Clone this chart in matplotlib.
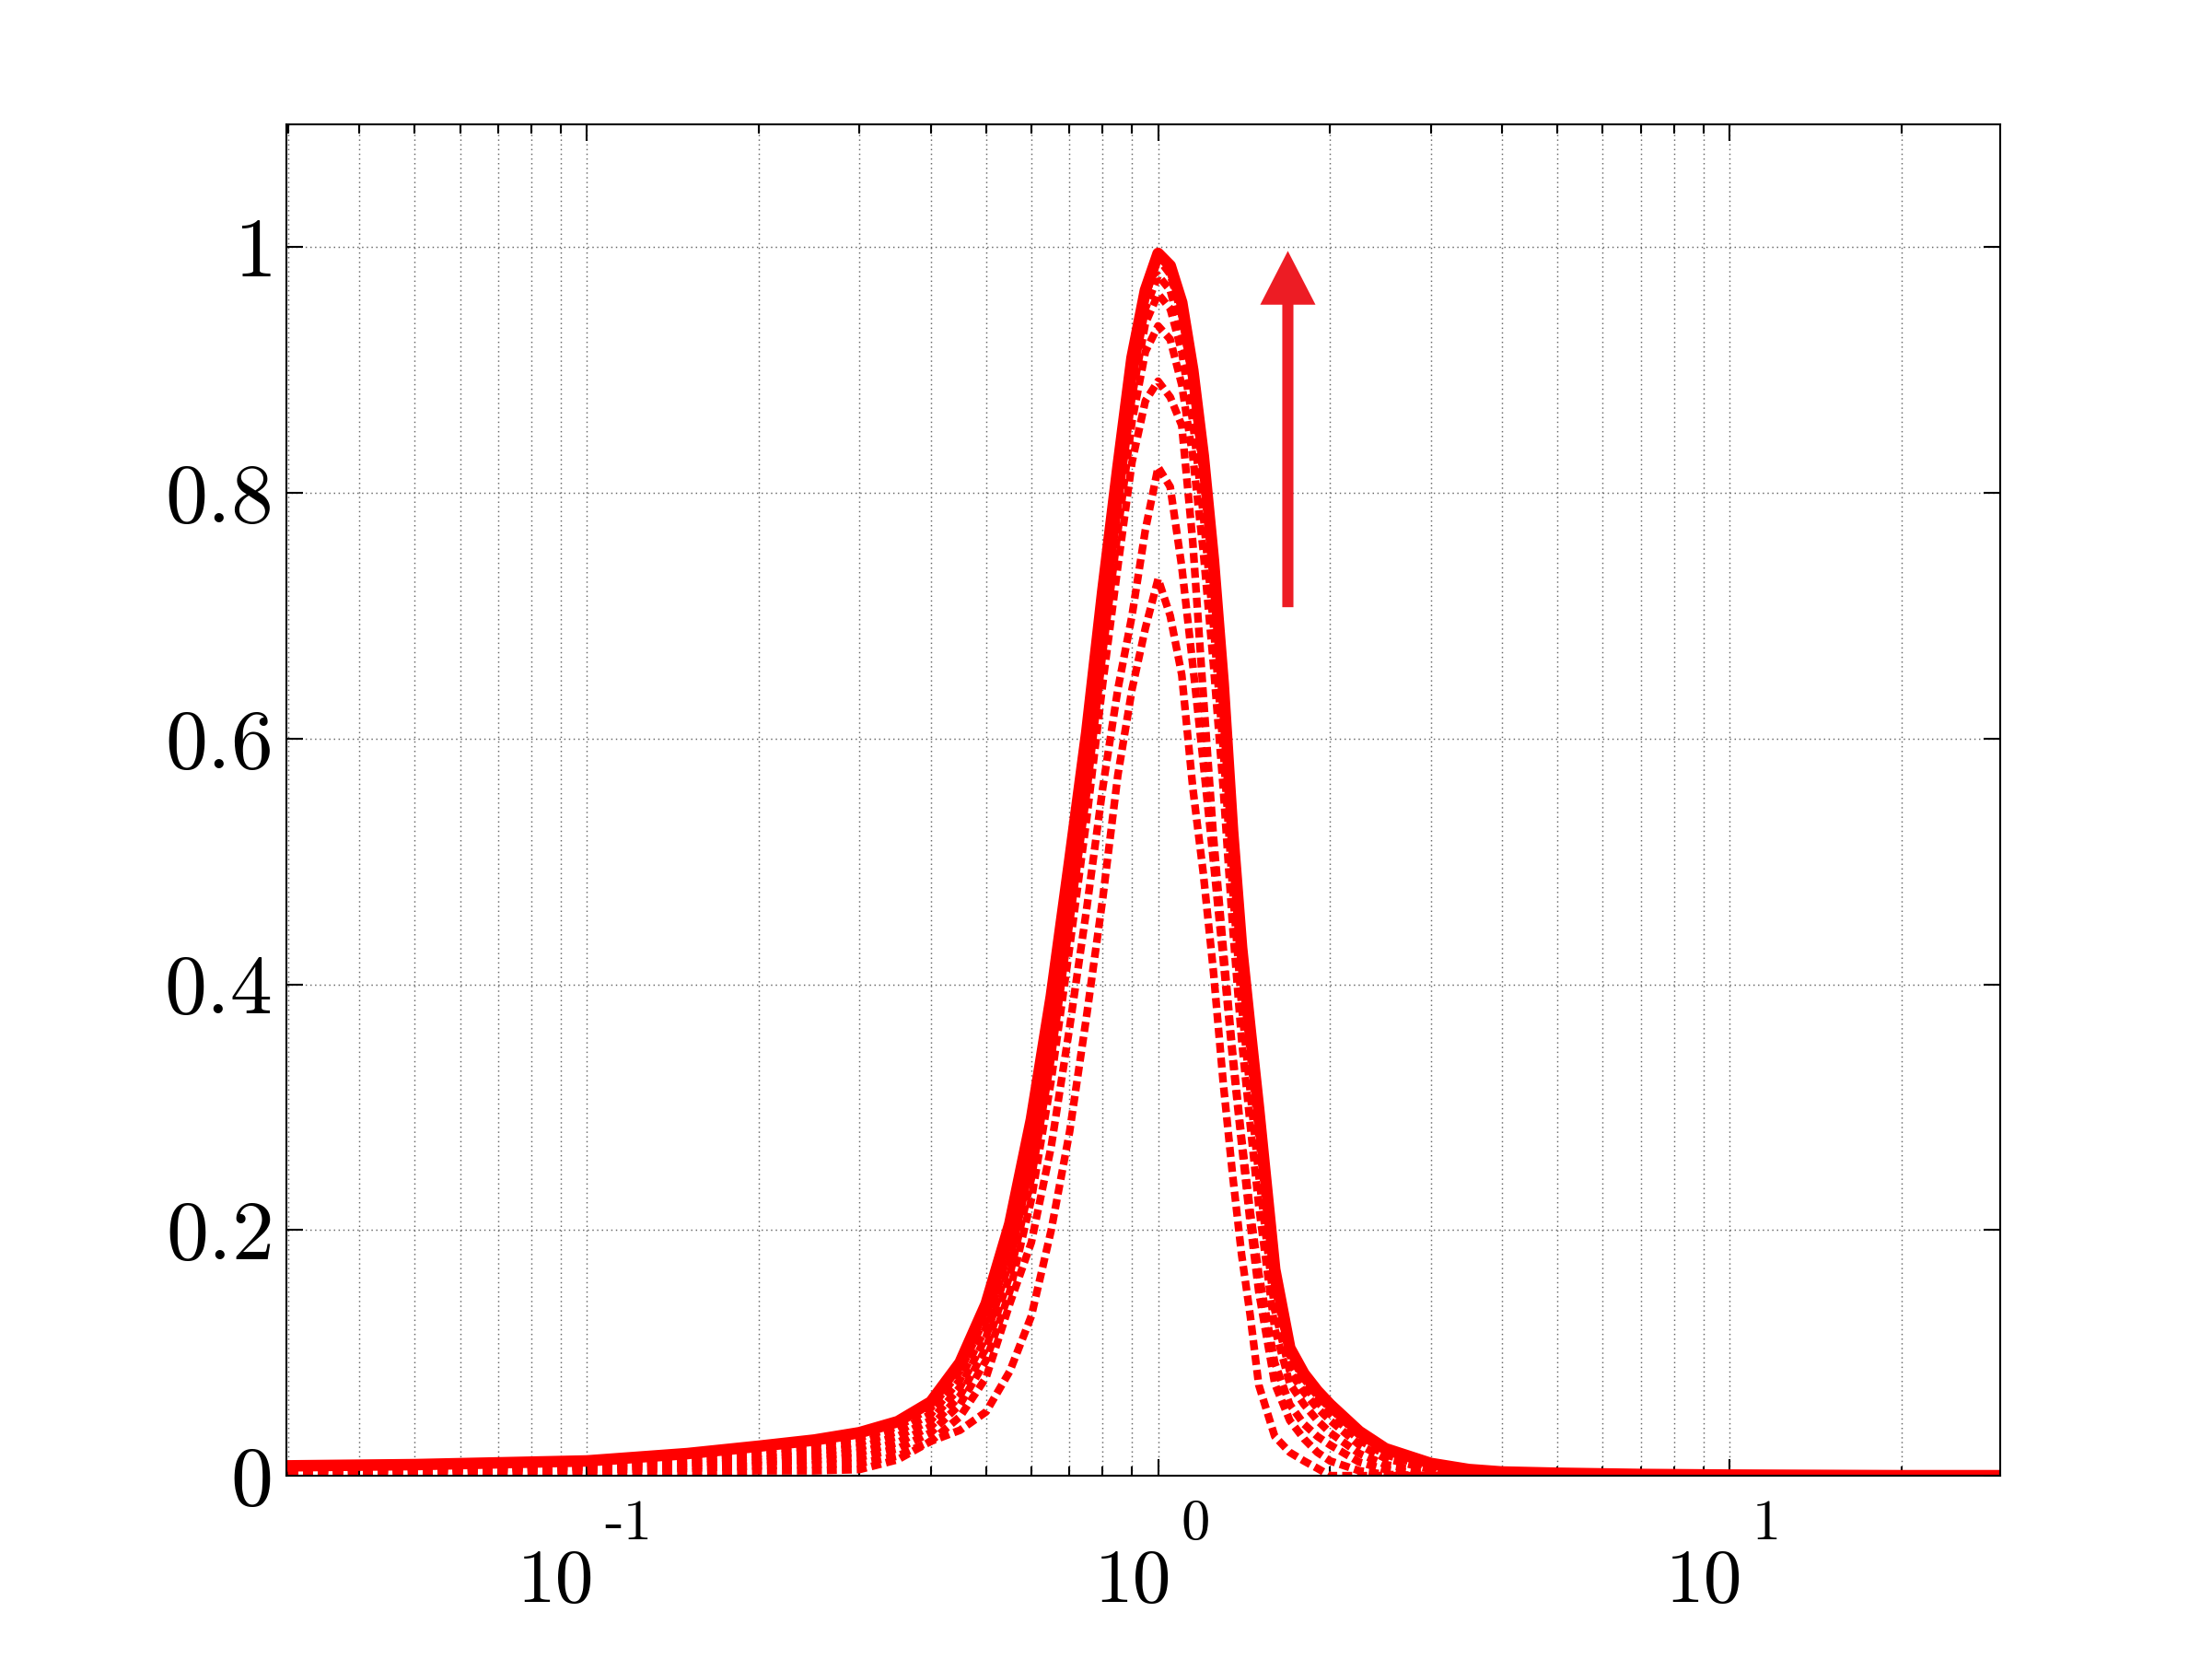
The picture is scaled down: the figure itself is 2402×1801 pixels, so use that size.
import matplotlib
matplotlib.use('Agg')
import matplotlib.pyplot as plt
import matplotlib.transforms as mtransforms
from matplotlib.ticker import LogLocator, FixedLocator, FixedFormatter, NullFormatter

plt.rcParams['mathtext.fontset'] = 'cm'
plt.rcParams['font.family'] = ['cmr10', 'DejaVu Serif']

# frequency ratio (log axis)
freq = [0.03, 0.05, 0.1, 0.15, 0.2, 0.25, 0.3, 0.35, 0.4, 0.45,
        0.5, 0.55, 0.6, 0.65, 0.7, 0.75, 0.8, 0.85, 0.9, 0.95,
        1.0, 1.05, 1.1, 1.15, 1.2, 1.25, 1.3, 1.35, 1.4, 1.45,
        1.5, 1.6, 1.7, 1.8, 1.9, 2.0, 2.25, 2.5, 3.0, 3.5,
        4.0, 5.0, 7.0, 10.0, 20.0, 30.0]

# solid (final) curve
resp_solid = [0.008, 0.009, 0.012, 0.018, 0.024, 0.029, 0.035, 0.044, 0.060, 0.092,
              0.140, 0.205, 0.290, 0.390, 0.500, 0.605, 0.720, 0.820, 0.910, 0.965,
              0.995, 0.985, 0.955, 0.900, 0.830, 0.745, 0.645, 0.525, 0.430, 0.362,
              0.298, 0.168, 0.104, 0.083, 0.069, 0.058, 0.036, 0.022, 0.010, 0.005,
              0.003, 0.002, 0.001, 0.0005, 0.0, 0.0]

# dashed curves, highest peak first
resp_d1 = [0.007, 0.008, 0.011, 0.016, 0.021, 0.026, 0.031, 0.040, 0.055, 0.085,
           0.130, 0.195, 0.280, 0.380, 0.490, 0.595, 0.710, 0.810, 0.900, 0.960,
           0.991, 0.978, 0.945, 0.890, 0.815, 0.730, 0.630, 0.510, 0.415, 0.345,
           0.278, 0.155, 0.098, 0.079, 0.065, 0.055, 0.033, 0.020, 0.009, 0.004,
           0.002, 0.001, 0.0005, 0.0, 0.0, 0.0]
resp_d2 = [0.006, 0.007, 0.010, 0.014, 0.018, 0.022, 0.027, 0.036, 0.050, 0.078,
           0.121, 0.185, 0.268, 0.368, 0.478, 0.585, 0.700, 0.800, 0.890, 0.950,
           0.977, 0.965, 0.930, 0.875, 0.800, 0.712, 0.612, 0.495, 0.400, 0.330,
           0.262, 0.145, 0.092, 0.074, 0.060, 0.050, 0.029, 0.017, 0.007, 0.003,
           0.001, 0.0, 0.0, 0.0, 0.0, 0.0]
resp_d3 = [0.005, 0.006, 0.009, 0.012, 0.016, 0.019, 0.023, 0.032, 0.045, 0.072,
           0.113, 0.175, 0.256, 0.355, 0.465, 0.572, 0.688, 0.788, 0.878, 0.938,
           0.962, 0.950, 0.915, 0.858, 0.782, 0.692, 0.592, 0.478, 0.383, 0.312,
           0.245, 0.135, 0.085, 0.068, 0.055, 0.045, 0.025, 0.014, 0.005, 0.002,
           0.001, 0.0, 0.0, 0.0, 0.0, 0.0]
resp_d4 = [0.004, 0.005, 0.008, 0.010, 0.013, 0.016, 0.019, 0.027, 0.040, 0.065,
           0.104, 0.163, 0.242, 0.340, 0.450, 0.556, 0.670, 0.768, 0.858, 0.915,
           0.936, 0.925, 0.888, 0.830, 0.752, 0.660, 0.560, 0.448, 0.355, 0.285,
           0.220, 0.120, 0.075, 0.058, 0.045, 0.035, 0.018, 0.009, 0.003, 0.001,
           0.0, 0.0, 0.0, 0.0, 0.0, 0.0]
resp_d5 = [0.004, 0.004, 0.007, 0.008, 0.011, 0.013, 0.015, 0.022, 0.035, 0.058,
           0.094, 0.150, 0.225, 0.322, 0.430, 0.535, 0.645, 0.740, 0.825, 0.875,
           0.891, 0.878, 0.855, 0.760, 0.635, 0.520, 0.430, 0.345, 0.275, 0.215,
           0.165, 0.092, 0.058, 0.042, 0.032, 0.025, 0.011, 0.005, 0.001, 0.0,
           0.0, 0.0, 0.0, 0.0, 0.0, 0.0]
resp_d6 = [0.003, 0.003, 0.005, 0.006, 0.008, 0.009, 0.010, 0.016, 0.028, 0.048,
           0.080, 0.140, 0.190, 0.268, 0.365, 0.462, 0.560, 0.640, 0.700, 0.770,
           0.821, 0.805, 0.740, 0.660, 0.580, 0.500, 0.420, 0.340, 0.270, 0.205,
           0.150, 0.075, 0.045, 0.030, 0.019, 0.012, 0.004, 0.001, 0.0, 0.0,
           0.0, 0.0, 0.0, 0.0, 0.0, 0.0]
resp_d7 = [0.003, 0.003, 0.003, 0.003, 0.004, 0.004, 0.005, 0.013, 0.028, 0.037,
           0.052, 0.085, 0.130, 0.200, 0.280, 0.375, 0.470, 0.570, 0.640, 0.690,
           0.730, 0.700, 0.652, 0.560, 0.490, 0.410, 0.320, 0.245, 0.180, 0.130,
           0.074, 0.032, 0.019, 0.012, 0.006, 0.0, 0.0, 0.0, 0.0, 0.0,
           0.0, 0.0, 0.0, 0.0, 0.0, 0.0]

dashed = [resp_d7, resp_d6, resp_d5, resp_d4, resp_d3, resp_d2, resp_d1]

# arrow (data coords)
arrow_x = 1.687
arrow_y0 = 0.707
arrow_y1 = 0.997

yticks = [0, 0.2, 0.4, 0.6, 0.8, 1.0]
ytick_labels = ['$0$', '$0.2$', '$0.4$', '$0.6$', '$0.8$', '$1$']
xticks = [0.1, 1.0, 10.0]
xtick_exps = ['-1', '0', '1']

fig = plt.figure(figsize=(2402/300, 1801/300), dpi=300)
ax = fig.add_axes([0.1295, 0.1105, 0.7748, 0.8145])

for d in dashed:
    ax.plot(freq, d, color='#FF0000', linewidth=2.0, dashes=(1.3, 0.65))
ax.plot(freq, resp_solid, color='#FF0000', linewidth=3.0, solid_joinstyle='round')

ax.annotate('', xy=(arrow_x, arrow_y1), xytext=(arrow_x, arrow_y0),
            arrowprops=dict(width=2.9, headwidth=14.4, headlength=14.0,
                            shrink=0, facecolor='#ED1C24', edgecolor='none'))

ax.set_xscale('log')
ax.set_xlim(0.0298, 29.8)
ax.set_ylim(0, 1.1)

ax.xaxis.set_major_locator(FixedLocator(xticks))
ax.xaxis.set_major_formatter(NullFormatter())
ax.xaxis.set_minor_locator(LogLocator(base=10, subs=range(2, 10)))
ax.xaxis.set_minor_formatter(NullFormatter())
ax.yaxis.set_major_locator(FixedLocator(yticks))
ax.yaxis.set_major_formatter(FixedFormatter(ytick_labels))

ax.tick_params(which='both', direction='in', top=True, right=True, width=0.5, colors='k')
ax.tick_params(which='major', length=4.4)
ax.tick_params(which='minor', length=2.4)
ax.tick_params(axis='y', labelsize=22, pad=4)

# x tick labels drawn as base + raised exponent (MATLAB look)
trans = mtransforms.blended_transform_factory(ax.transData, ax.transAxes)
for xt, ex in zip(xticks, xtick_exps):
    off = 1.5 if ex == '-1' else 0
    tb = mtransforms.offset_copy(trans, fig=fig, x=3.5 - off, y=-33, units='points')
    ax.text(xt, 0, '10', transform=tb, ha='right', va='baseline', fontsize=20)
    ts = mtransforms.offset_copy(trans, fig=fig, x=6.0 - off, y=-16.5, units='points')
    ax.text(xt, 0, ex, transform=ts, ha='left', va='baseline', fontsize=15)

ax.grid(which='major', axis='both', color='0.4', linewidth=0.35, linestyle=(0, (1, 2.5)))
ax.grid(which='minor', axis='x', color='0.4', linewidth=0.35, linestyle=(0, (1, 2.5)))
ax.set_axisbelow(True)

for s in ['top', 'bottom', 'left', 'right']:
    ax.spines[s].set_linewidth(0.5)

fig.savefig('out.png', dpi=300)
plt.close(fig)
